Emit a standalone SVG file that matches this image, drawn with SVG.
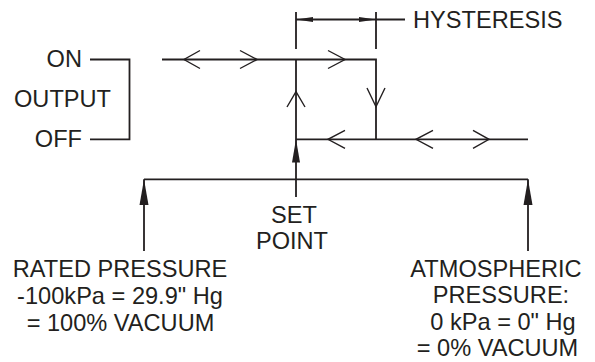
<svg xmlns="http://www.w3.org/2000/svg" width="595" height="362" viewBox="0 0 595 362">
<style>
.ln{fill:none;stroke:#231f20;stroke-width:1.8;stroke-linecap:butt}
.oa{fill:none;stroke:#231f20;stroke-width:1.4;stroke-linejoin:miter}
.fa{fill:#231f20;stroke:none}
text{font-family:"Liberation Sans",Arial,sans-serif;font-size:23.6px;fill:#231f20}
.m{text-anchor:middle}
.e{text-anchor:end}
</style>
<rect width="595" height="362" fill="#fff"/>
<g id="output-label">
<text class="e" x="82" y="67">ON</text>
<text class="m" x="62.5" y="107">OUTPUT</text>
<text class="e" x="82" y="147">OFF</text>
<path class="ln" d="M90 59.5H129.5V139.3H90"/>
</g>
<g id="hysteresis">
<path class="ln" d="M296 12V49M376 12V49M296 19.5H405"/>
<path class="fa" d="M296 19.5L313 17V22Z"/>
<path class="fa" d="M376 19.5L359 17V22Z"/>
<text x="413" y="27.5">HYSTERESIS</text>
</g>
<g id="set-point">
<text class="m" x="294" y="222.5">SET</text>
<text class="m" x="292" y="249">POINT</text>
</g>
<g id="rated-pressure">
<text class="m" x="120" y="277">RATED PRESSURE</text>
<text class="m" x="120" y="304">-100kPa = 29.9" Hg</text>
<text class="m" x="120.5" y="331">= 100% VACUUM</text>
</g>
<g id="atmospheric-pressure">
<text class="m" x="496" y="277">ATMOSPHERIC</text>
<text class="m" x="501" y="303">PRESSURE:</text>
<text class="m" x="503" y="329.5">0 kPa = 0" Hg</text>
<text class="m" x="497.5" y="356">= 0% VACUUM</text>
</g>
<g id="connectors">
<path class="ln" d="M162 59.5H376V139.3M296 59.5V197M296 139.3H528"/>
<path class="ln" d="M144 179.3H528M144 179.3V251M528 179.3V251"/>
<path class="oa" d="M200 50.5L184 59.5L200 68.5"/>
<path class="oa" d="M240 50.5L257 59.5L240 68.5"/>
<path class="oa" d="M328 50.5L345 59.5L328 68.5"/>
<path class="oa" d="M367 88L376 106.7L385 88"/>
<path class="oa" d="M287 107L296 91.7L305 107"/>
<path class="oa" d="M345 130.3L328 139.3L345 148.3"/>
<path class="oa" d="M433 130.3L416 139.3L433 148.3"/>
<path class="oa" d="M473 130.3L489 139.3L473 148.3"/>
<path class="fa" d="M296 139.3L300 162.5H292Z"/>
<path class="fa" d="M144 179.3L148.5 205H139.5Z"/>
<path class="fa" d="M528 179.3L532.5 205H523.5Z"/>
</g>
</svg>
